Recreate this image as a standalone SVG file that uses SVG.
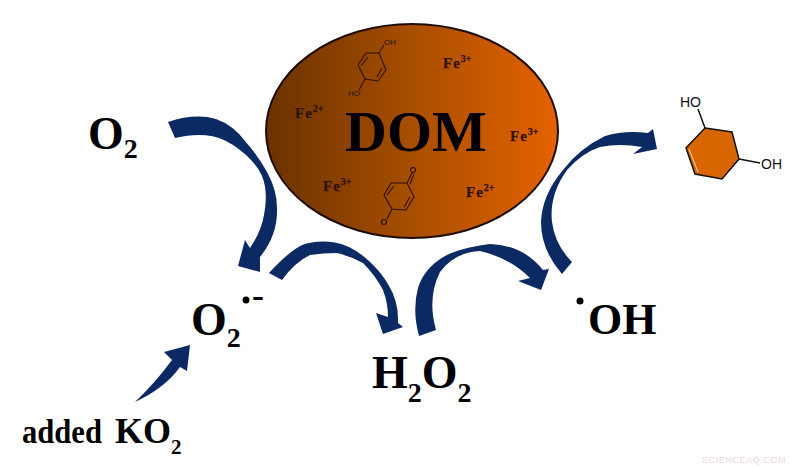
<svg xmlns="http://www.w3.org/2000/svg" width="800" height="468" viewBox="0 0 800 468">
<style>
.s{font-family:"Liberation Serif","Times New Roman",serif;font-weight:bold;fill:#000}
.fe{font-family:"Liberation Serif","Times New Roman",serif;font-weight:bold;fill:#2e1203;font-size:15px;letter-spacing:1px;stroke:#2e1203;stroke-width:0.25}
.sup{font-size:10px;letter-spacing:0}
.m{font-family:"Liberation Sans",Arial,sans-serif;fill:#2a1000;font-size:8px}
.r{font-family:"Liberation Sans",Arial,sans-serif;fill:#111;font-size:14px}
.a{fill:#0b2963}
.b{fill:none;stroke:#2a1000;stroke-width:1.1}
</style>
<defs>
<linearGradient id="g" x1="0" x2="1" y1="0" y2="0"><stop offset="0" stop-color="#6a3200"/><stop offset="0.5" stop-color="#a84e00"/><stop offset="1" stop-color="#e56200"/></linearGradient>
</defs>
<rect width="800" height="468" fill="#fff"/>
<g id="connectors">
<path class="a" d="M168 122Q195 113 216 119Q233 125 245 141Q259 157 267 172Q277 190 277 208Q278 235 260 257L260 272L238 266L245 240L250 248Q261 232 264 215Q267 200 265 186.5Q263 173 251.5 160.5Q240 148 225 140.5Q205 131 175 138Z"/>
<path class="a" d="M269 273Q293 247 306.5 243.5Q320 240 335 242.5Q350 245 365 257.5Q380 270 388.5 285Q399 302 398 323L403 327L383 334L376 313L388 317Q388 303 383 290Q375 275 363 263Q350 256 337 253Q323 253 310 255Q295 262 282 280Z"/>
<path class="a" d="M419 336Q412 310 418 288Q424 268 445 256Q460 248 490 244Q523 245 543 270L549 269L541 290L518 281L530 278Q510 258 480 251Q455 252 440 272Q427 298 436 330Z"/>
<path class="a" d="M562 274Q541 250 541 222Q542 195 563 170Q580 148 605 136Q625 130 648 133L653 129L657 149L633 154L642 147Q620 143 600 147Q582 153 567 170Q549 195 552 222Q555 245 572 262Z"/>
<path class="a" d="M135 402Q155 383 172 360L164 352L190 345L187 371L180 367Q165 388 135 402Z"/>
</g>
<g id="dom">
<ellipse cx="412" cy="131" rx="146" ry="107" fill="url(#g)" stroke="#1e0c02" stroke-width="2"/>
<text class="s" x="345" y="151" font-size="58" fill="#060300">DOM</text>
<text class="fe" x="295" y="118">Fe<tspan class="sup" dy="-6">2+</tspan></text>
<text class="fe" x="443" y="68">Fe<tspan class="sup" dy="-6">3+</tspan></text>
<text class="fe" x="510" y="141">Fe<tspan class="sup" dy="-6">3+</tspan></text>
<text class="fe" x="323" y="191">Fe<tspan class="sup" dy="-6">3+</tspan></text>
<text class="fe" x="466" y="197">Fe<tspan class="sup" dy="-6">2+</tspan></text>
<path class="b" d="M366 53L379 53L386 70L378 81L365 79L358 65ZM368 57L361 66M382 68L377 77M379 53L384 45M365 79L359 90"/>
<text class="m" x="384" y="45">OH</text>
<text class="m" x="348" y="96">HO</text>
<path class="b" d="M391 183L407 183L414 197L406 210L392 209L384 195ZM394 186L387 195M410 197L404 207M407 183L412 173M410 184L414 174M392 209L387 219"/>
<circle class="b" cx="413" cy="170" r="2.5"/>
<circle class="b" cx="384" cy="222" r="2.5"/>
</g>
<g id="o2">
<text class="s" x="88" y="149" font-size="46">O<tspan font-size="28" dy="9">2</tspan></text>
</g>
<g id="superoxide">
<text class="s" x="191" y="335" font-size="46">O<tspan font-size="28" dy="12">2</tspan></text>
<circle cx="246" cy="300" r="3.5" fill="#000"/>
<text class="s" x="252" y="307" font-size="36">-</text>
</g>
<g id="h2o2">
<text class="s" x="372" y="388" font-size="46">H<tspan font-size="28" dy="14">2</tspan><tspan dy="-14">O</tspan><tspan font-size="28" dy="14">2</tspan></text>
</g>
<g id="oh">
<circle cx="580" cy="301" r="3.5" fill="#000"/>
<text class="s" x="588" y="334" font-size="44">OH</text>
</g>
<g id="ko2">
<text class="s" x="22" y="443" font-size="33" textLength="80" lengthAdjust="spacingAndGlyphs">added</text>
<text class="s" x="115" y="443" font-size="36">KO<tspan font-size="21" dy="11">2</tspan></text>
</g>
<g id="product">
<path d="M705 128L732 132L739 159L722 179L695 174L686 148Z" fill="#d96500" stroke="#111" stroke-width="1.5"/>
<path d="M689 149L698 172" stroke="#e8d8b0" stroke-width="1" fill="none"/>
<path d="M698 109L705 128M739 159L760 163" stroke="#111" stroke-width="1.5" fill="none"/>
<text class="r" x="680" y="107">HO</text>
<text class="r" x="761" y="169">OH</text>
</g>
<text x="702" y="463" font-family="Liberation Sans,Arial,sans-serif" font-size="9" fill="#e8d8d8" letter-spacing="0.6">SCIENCEAQ.COM</text>
</svg>
